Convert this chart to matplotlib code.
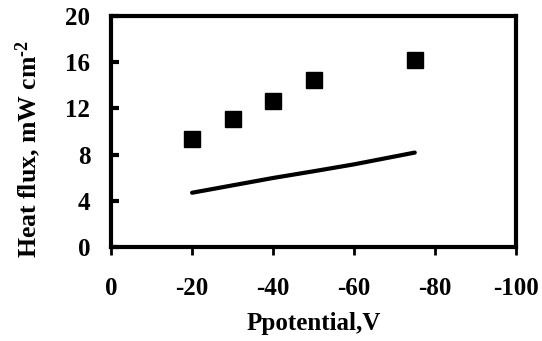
import numpy as np
import matplotlib.pyplot as plt

potential = [-20, -30, -40, -50, -75]
heat_flux = [9.37, 11.05, 12.66, 14.48, 16.17]

model_potential = [-20, -30, -40, -50, -60, -75]
model_flux = [4.69, 5.33, 5.97, 6.55, 7.15, 8.17]

plt.rcParams['font.family'] = ['Liberation Serif', 'DejaVu Serif']
plt.rcParams['font.weight'] = 'bold'
plt.rcParams['axes.unicode_minus'] = False
plt.rcParams['mathtext.fontset'] = 'custom'
plt.rcParams['mathtext.rm'] = 'Liberation Serif:bold'
plt.rcParams['mathtext.default'] = 'rm'

fig = plt.figure(figsize=(5.42, 3.41), dpi=100)
ax = fig.add_axes([0.205, 0.276, 0.747, 0.677])

ax.plot(potential, heat_flux, 's', color='black', markersize=11)
ax.plot(model_potential, model_flux, '-', color='black', linewidth=3, solid_capstyle='round')

ax.set_xlim(0, -100)
ax.set_ylim(0, 20)
ax.set_xticks([0, -20, -40, -60, -80, -100])
ax.set_yticks([0, 4, 8, 12, 16, 20])

for s in ax.spines.values():
    s.set_linewidth(3)

ax.tick_params(axis='y', direction='in', length=6, width=3, labelsize=18, pad=15)
ax.tick_params(axis='x', direction='out', length=6, width=2, labelsize=18, pad=16)

ax.set_xlabel('Ppotential,V', fontsize=18, fontweight='bold', labelpad=8)
ax.set_ylabel('Heat flux, mW cm$^{\u2010 2}$', fontsize=18.5, fontweight='bold')
ax.yaxis.set_label_coords(-0.168, 0.425)

fig.savefig('out.png', dpi=100)
